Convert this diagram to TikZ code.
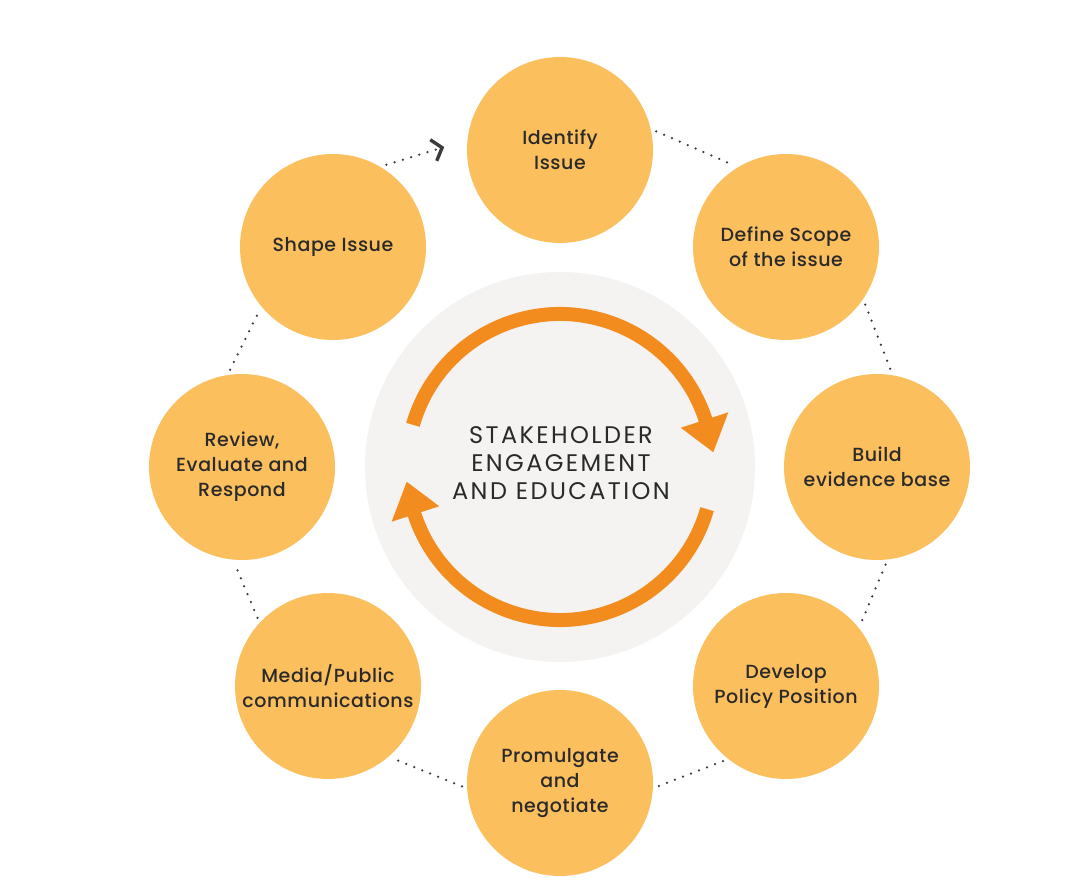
\documentclass[tikz,border=0pt]{standalone}
\usepackage{fontspec}
\setmainfont{Poppins}
\newfontfamily\medfont{Poppins Medium}[LetterSpace=3]
\newfontfamily\titlefont{Poppins}[LetterSpace=10]
\usetikzlibrary{arrows.meta,calc}
\definecolor{disc}{HTML}{FBBF5E}
\definecolor{ring}{HTML}{F28C1F}
\definecolor{hubgray}{HTML}{F4F3F2}
\definecolor{ink}{HTML}{2A2A2A}
\definecolor{dotgray}{HTML}{3C3C3C}
\begin{document}
\begin{tikzpicture}[x=1pt,y=1pt,
  stage/.style={circle, fill=disc, minimum size=186pt, inner sep=0pt, outer sep=5pt,
    align=center, font=\medfont\fontsize{19}{25}\selectfont, text=ink},
  link/.style={draw=dotgray, line width=2.5pt, line cap=round, dash pattern=on 0pt off 8.6pt},
  bigarc/.style={draw=ring, line width=14pt},
]
\useasboundingbox (0,0) rectangle (1092,894);
\fill[white] (0,0) rectangle (1092,894);

\node[circle, fill=hubgray, minimum size=390pt, inner sep=0pt] (hub) at (560,427) {};

% orange cycle arrows
\draw[bigarc] ($(hub.center)+(164:153)$) arc[start angle=164, end angle=17, radius=153];
\fill[ring] ($(hub.center)+(18:127)$) -- ($(hub.center)+(18:177)$) -- ($(hub.center)+(5.5:154)$) -- cycle;
\draw[bigarc] ($(hub.center)+(-16:153)$) arc[start angle=-16, end angle=-163, radius=153];
\fill[ring] ($(hub.center)+(198:127)$) -- ($(hub.center)+(198:177)$) -- ($(hub.center)+(185.5:154)$) -- cycle;

\node[font=\titlefont\fontsize{24}{28}\selectfont, text=ink, align=center] (title) at (561,431)
  {STAKEHOLDER\\ENGAGEMENT\\AND EDUCATION};

% stages
\node[stage] (ident) at (560,744) {Identify\\Issue};
\node[stage] (scope) at (786,647) {Define Scope\\of the issue};
\node[stage] (build) at (877,427) {Build\\evidence base};
\node[stage] (devel) at (786,208) {Develop\\Policy Position};
\node[stage] (prom)  at (560,111) {Promulgate\\and\\negotiate};
\node[stage] (media) at (328,208) {Media/Public\\communications};
\node[stage] (review) at (242,427) {Review,\\Evaluate and\\Respond};
\node[stage] (shape) at (333,647) {Shape Issue};

% dotted links
\draw[link] (ident.11) -- (scope.123);
\draw[link] (scope.-36) -- (build.82);
\draw[link] (build.-85) -- (devel.40);
\draw[link] (devel.-130) -- (prom.-2);
\draw[link] (prom.182) -- (media.-48);
\draw[link] (media.136) -- (review.-94);
\draw[link] (review.97) -- (shape.-139);
\draw[link, shorten >=19pt, -{Straight Barb[length=9pt,width=22pt,line width=3.4pt,line cap=butt]}] (shape.57) -- (ident.175);
\end{tikzpicture}
\end{document}
